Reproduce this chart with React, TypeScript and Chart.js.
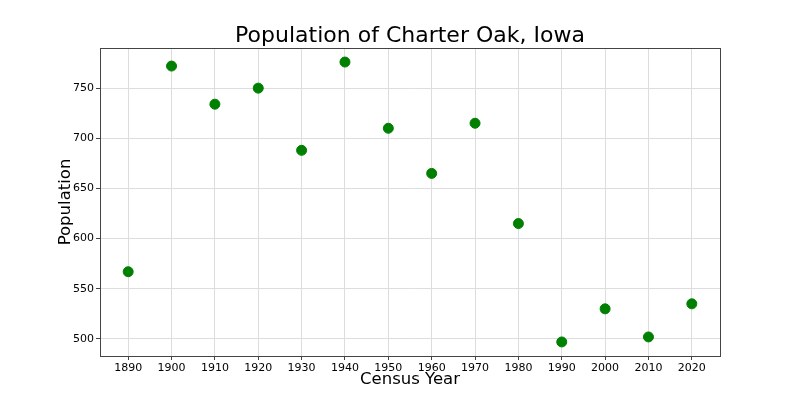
import React, { useEffect, useRef } from "react";
import { Chart, registerables } from "chart.js";

Chart.register(...registerables);

const years = [1890, 1900, 1910, 1920, 1930, 1940, 1950, 1960, 1970, 1980, 1990, 2000, 2010, 2020];
const population = [567, 772, 734, 750, 688, 776, 710, 665, 715, 615, 497, 530, 502, 535];
const xTicks = [1890, 1900, 1910, 1920, 1930, 1940, 1950, 1960, 1970, 1980, 1990, 2000, 2010, 2020];
const yTicks = [500, 550, 600, 650, 700, 750];
const titleText = "Population of Charter Oak, Iowa";

const FONT = "'DejaVu Sans', sans-serif";

const boxPlugin = {
  id: "box",
  afterDraw(chart: any) {
    const { ctx, chartArea } = chart;
    ctx.save();
    ctx.strokeStyle = "#444444";
    ctx.lineWidth = 1;
    ctx.strokeRect(
      Math.round(chartArea.left) + 0.5,
      Math.round(chartArea.top) + 0.5,
      Math.round(chartArea.right - chartArea.left),
      Math.round(chartArea.bottom - chartArea.top)
    );
    ctx.fillStyle = "#000";
    ctx.font = `22px ${FONT}`;
    ctx.textAlign = "center";
    ctx.textBaseline = "middle";
    ctx.fillText(titleText, (chartArea.left + chartArea.right) / 2, 36);
    ctx.restore();
  },
};

export default function App() {
  const ref = useRef<HTMLCanvasElement>(null);
  useEffect(() => {
    if (!ref.current) return;
    const chart = new Chart(ref.current, {
      type: "scatter",
      data: {
        datasets: [
          {
            data: years.map((y, i) => ({ x: y, y: population[i] })),
            backgroundColor: "#008000",
            borderColor: "#008000",
            pointRadius: 5,
            pointHoverRadius: 5,
          },
        ],
      },
      options: {
        animation: false,
        responsive: false,
        layout: { padding: { left: 0, right: 80, top: 48, bottom: 0 } },
        plugins: {
          legend: { display: false },
          tooltip: { enabled: false },
          title: { display: false },
        },
        scales: {
          x: {
            type: "linear",
            min: 1883.5,
            max: 2026.5,
            afterBuildTicks: (s: any) => {
              s.ticks = xTicks.map((v) => ({ value: v }));
            },
            afterFit: (s: any) => {
              s.height = 44;
            },
            ticks: {
              color: "#000",
              font: { family: FONT, size: 11 },
              padding: 2,
              maxRotation: 0,
              callback: (v: any) => String(v),
            },
            grid: { color: "#dddddd", tickColor: "#444444", tickLength: 4 },
            border: { color: "#444444" },
            title: {
              display: true,
              text: "Census Year",
              color: "#000",
              font: { family: FONT, size: 16.5 },
              padding: { top: 10, bottom: 10 },
            },
          },
          y: {
            type: "linear",
            min: 483,
            max: 790,
            afterBuildTicks: (s: any) => {
              s.ticks = yTicks.map((v) => ({ value: v }));
            },
            afterFit: (s: any) => {
              s.width = 100;
            },
            ticks: {
              color: "#000",
              font: { family: FONT, size: 11 },
              padding: 2,
              callback: (v: any) => String(v),
            },
            grid: { color: "#dddddd", tickColor: "#444444", tickLength: 4 },
            border: { color: "#444444" },
            title: {
              display: true,
              text: "Population",
              color: "#000",
              font: { family: FONT, size: 16.5 },
              padding: { top: 56, bottom: 0 },
            },
          },
        },
      },
      plugins: [boxPlugin],
    });
    return () => chart.destroy();
  }, []);
  return (
    <div style={{ position: "fixed", left: 0, top: 0, width: 800, height: 400, background: "#fff" }}>
      <canvas ref={ref} width={800} height={400} />
    </div>
  );
}
